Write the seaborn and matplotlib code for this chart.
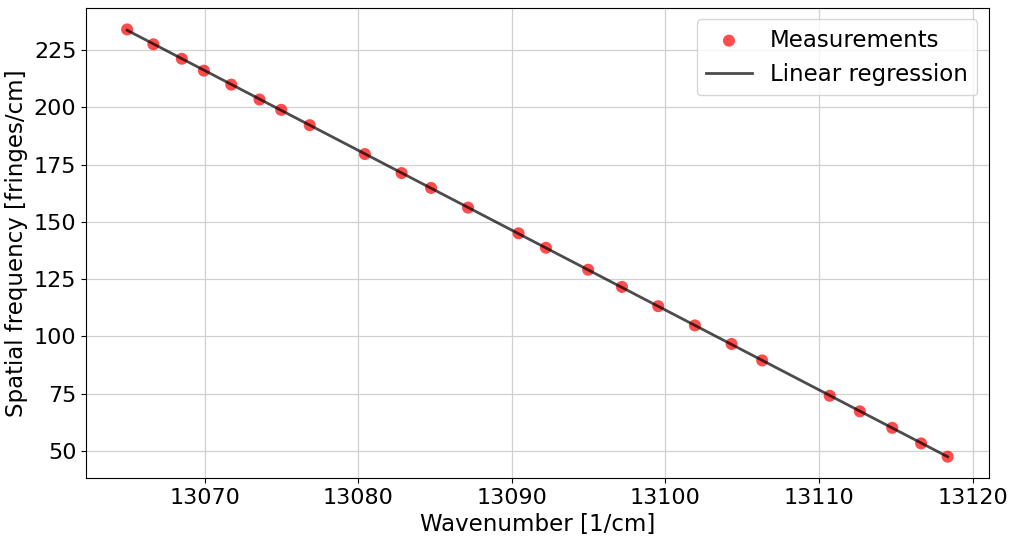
import matplotlib
matplotlib.use('Agg')

import numpy as np
import pandas as pd
import matplotlib.pyplot as plt
import seaborn as sns

wavenumber = [13064.95, 13066.66, 13068.51, 13069.95, 13071.73, 13073.57, 13074.98,
              13076.84, 13080.43, 13082.82, 13084.74, 13087.15, 13090.44, 13092.22,
              13094.97, 13097.17, 13099.53, 13101.92, 13104.31, 13106.30, 13110.70,
              13112.66, 13114.77, 13116.65, 13118.38]
spatial_freq = [234.0, 227.5, 221.2, 216.0, 209.9, 203.4, 198.9, 192.2, 179.6, 171.3,
                164.8, 156.2, 145.0, 138.7, 129.1, 121.6, 113.2, 104.8, 96.7, 89.5,
                74.1, 67.3, 60.1, 53.3, 47.5]

df = pd.DataFrame({'k': wavenumber, 'f': spatial_freq})

# linear fit
slope, intercept = np.polyfit(df['k'], df['f'], 1)
df['fit'] = slope * df['k'] + intercept

fig, ax = plt.subplots(figsize=(10.13, 5.36), dpi=100)

sns.scatterplot(data=df, x='k', y='f', ax=ax, color='red', alpha=0.7, s=75,
                edgecolor='none', label='Measurements', zorder=3)
sns.lineplot(data=df, x='k', y='fit', ax=ax, color='k', alpha=0.7, lw=2,
             label='Linear regression', zorder=4)

ax.grid(True, color='#d0d0d0', lw=0.9)
ax.set_axisbelow(True)
ax.set_xlabel('Wavenumber [1/cm]', fontsize=16.5)
ax.set_ylabel('Spatial frequency [fringes/cm]', fontsize=16.5)
ax.tick_params(labelsize=16)
ax.legend(loc='upper right', fontsize=16.5)

plt.subplots_adjust(left=0.085, right=0.976, top=0.985, bottom=0.108)
plt.savefig('out.png', dpi=100)
plt.close()
